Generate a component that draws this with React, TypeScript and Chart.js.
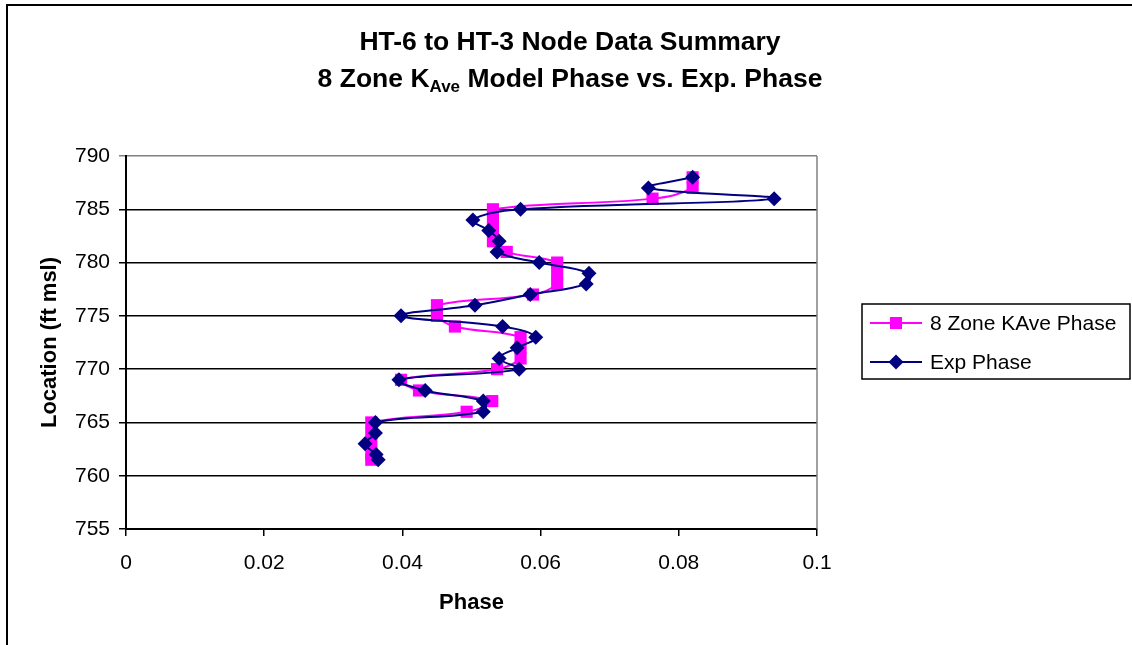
import { useEffect, useRef } from "react";
import { Chart, registerables } from "chart.js";

Chart.register(...registerables);

const FONT = "'Liberation Sans', Arial, sans-serif";

const titleLine1 = "HT-6 to HT-3 Node Data Summary";
const titleLine2Parts = ["8 Zone K", "Ave", " Model Phase vs. Exp. Phase"];
const xAxisTitle = "Phase";
const yAxisTitle = "Location (ft msl)";
const seriesNames = ["8 Zone KAve Phase", "Exp Phase"];

const xTicks = [0, 0.02, 0.04, 0.06, 0.08, 0.1];
const xTickLabels = ["0", "0.02", "0.04", "0.06", "0.08", "0.1"];
const yTicks = [755, 760, 765, 770, 775, 780, 785, 790];
const yTickLabels = ["755", "760", "765", "770", "775", "780", "785", "790"];

const locations = [
  788, 787, 786, 785, 784, 783, 782, 781, 780, 779, 778, 777, 776, 775, 774,
  773, 772, 771, 770, 769, 768, 767, 766, 765, 764, 763, 762, 761.5,
];
const modelPhase = [
  0.082, 0.082, 0.0762, 0.0531, 0.0531, 0.0531, 0.0531, 0.0551, 0.0624, 0.0624,
  0.0624, 0.0589, 0.045, 0.045, 0.0476, 0.0571, 0.0571, 0.0571, 0.0537, 0.0398,
  0.0424, 0.053, 0.0493, 0.0355, 0.0355, 0.0355, 0.0355, 0.0355,
];
const expPhase = [
  0.082, 0.0756, 0.0938, 0.0571, 0.0502, 0.0525, 0.054, 0.0537, 0.0598, 0.067,
  0.0666, 0.0585, 0.0505, 0.0398, 0.0545, 0.0593, 0.0566, 0.054, 0.0569, 0.0395,
  0.0433, 0.0517, 0.0517, 0.0361, 0.0361, 0.0346, 0.0362, 0.0365,
];

const PINK = "#FF00FF";
const NAVY = "#000080";

const decoPlugin = {
  id: "deco",
  beforeDraw(chart: any) {
    const ctx = chart.ctx;
    ctx.save();
    ctx.fillStyle = "#ffffff";
    ctx.fillRect(0, 0, chart.width, chart.height);
    ctx.restore();
  },
  afterDraw(chart: any) {
    const ctx = chart.ctx as CanvasRenderingContext2D;
    const a = chart.chartArea;
    ctx.save();
    // gray right border of plot area
    ctx.strokeStyle = "#808080";
    ctx.lineWidth = 1.5;
    ctx.beginPath();
    ctx.moveTo(a.right, a.top);
    ctx.lineTo(a.right, a.bottom);
    ctx.stroke();

    // outer frame (top and left only visible)
    ctx.strokeStyle = "#000";
    ctx.lineWidth = 2;
    ctx.beginPath();
    ctx.moveTo(7, chart.height);
    ctx.lineTo(7, 5);
    ctx.lineTo(chart.width, 5);
    ctx.stroke();

    // title
    const cx = 570;
    ctx.fillStyle = "#000";
    ctx.textBaseline = "alphabetic";
    ctx.textAlign = "left";
    const big = `bold 26.5px ${FONT}`;
    const small = `bold 17px ${FONT}`;
    ctx.font = big;
    const w0 = ctx.measureText(titleLine1).width;
    ctx.fillText(titleLine1, cx - w0 / 2, 50);
    const w1 = ctx.measureText(titleLine2Parts[0]).width;
    const w3 = ctx.measureText(titleLine2Parts[2]).width;
    ctx.font = small;
    const w2 = ctx.measureText(titleLine2Parts[1]).width;
    let x = cx - (w1 + w2 + w3) / 2;
    ctx.font = big;
    ctx.fillText(titleLine2Parts[0], x, 87);
    x += w1;
    ctx.font = small;
    ctx.fillText(titleLine2Parts[1], x, 92);
    x += w2;
    ctx.font = big;
    ctx.fillText(titleLine2Parts[2], x, 87);

    // legend
    ctx.strokeStyle = "#000";
    ctx.lineWidth = 1.5;
    ctx.strokeRect(862, 304, 268, 75);
    const rows = [
      { y: 323, color: PINK, shape: "rect" },
      { y: 362, color: NAVY, shape: "diamond" },
    ];
    rows.forEach((r, i) => {
      ctx.strokeStyle = r.color;
      ctx.lineWidth = 2;
      ctx.beginPath();
      ctx.moveTo(870, r.y);
      ctx.lineTo(922, r.y);
      ctx.stroke();
      ctx.fillStyle = r.color;
      if (r.shape === "rect") {
        ctx.fillRect(896 - 6, r.y - 6, 12, 12);
      } else {
        ctx.beginPath();
        ctx.moveTo(896, r.y - 7.5);
        ctx.lineTo(903.5, r.y);
        ctx.lineTo(896, r.y + 7.5);
        ctx.lineTo(888.5, r.y);
        ctx.closePath();
        ctx.fill();
      }
      ctx.fillStyle = "#000";
      ctx.font = `21px ${FONT}`;
      ctx.textBaseline = "middle";
      ctx.fillText(seriesNames[i], 930, r.y + 1);
    });
    ctx.restore();
  },
};

export default function App() {
  const ref = useRef<HTMLCanvasElement>(null);

  useEffect(() => {
    const canvas = ref.current!;
    const tickFont = { family: FONT, size: 21 };
    const axisTitleFont = { family: FONT, size: 22, weight: "bold" as const };

    const chart = new Chart(canvas, {
      type: "scatter",
      data: {
        datasets: [
          {
            label: seriesNames[0],
            data: locations.map((y, i) => ({ x: modelPhase[i], y })),
            showLine: true,
            borderColor: PINK,
            backgroundColor: PINK,
            borderWidth: 2,
            pointStyle: "rect",
            pointRadius: 8.6,
            pointBorderWidth: 0,
            pointHoverRadius: 8.6,
            tension: 0.4,
            order: 2,
          },
          {
            label: seriesNames[1],
            data: locations.map((y, i) => ({ x: expPhase[i], y })),
            showLine: true,
            borderColor: NAVY,
            backgroundColor: NAVY,
            borderWidth: 2,
            pointStyle: "rectRot",
            pointRadius: 7.5,
            pointBorderWidth: 0,
            pointHoverRadius: 7.5,
            tension: 0.4,
            order: 1,
          },
        ],
      },
      plugins: [decoPlugin],
      options: {
        animation: false,
        responsive: false,
        devicePixelRatio: 1,
        events: [],
        layout: { padding: { left: 37, right: 315, top: 156, bottom: 29 } },
        plugins: {
          legend: { display: false },
          tooltip: { enabled: false },
          title: { display: false },
        },
        scales: {
          x: {
            type: "linear",
            min: 0,
            max: 0.1,
            afterBuildTicks: (s: any) => {
              s.ticks = xTicks.map((v) => ({ value: v }));
            },
            afterFit: (s: any) => {
              s.height = 87;
            },
            ticks: {
              callback: (_v: any, i: number) => xTickLabels[i],
              font: tickFont,
              color: "#000",
              padding: 15,
              maxRotation: 0,
              autoSkip: false,
            },
            grid: {
              drawOnChartArea: false,
              tickLength: 7,
              color: "#000",
              lineWidth: 1.5,
            },
            border: { color: "#000", width: 2 },
            title: {
              display: true,
              text: xAxisTitle,
              font: axisTitleFont,
              color: "#000",
              padding: 0,
            },
          },
          y: {
            type: "linear",
            min: 755,
            max: 790,
            afterBuildTicks: (s: any) => {
              s.ticks = yTicks.map((v) => ({ value: v }));
            },
            afterFit: (s: any) => {
              s.width = 89;
            },
            ticks: {
              callback: (_v: any, i: number) => yTickLabels[i],
              font: tickFont,
              color: "#000",
              padding: 9,
              autoSkip: false,
            },
            grid: {
              color: (c: any) =>
                c.tick && c.tick.value === 790 ? "#808080" : "#000",
              lineWidth: 1.5,
              tickLength: 7,
            },
            border: { color: "#000", width: 2 },
            title: {
              display: true,
              text: yAxisTitle,
              font: axisTitleFont,
              color: "#000",
              padding: 0,
            },
          },
        },
      },
    });
    return () => chart.destroy();
  }, []);

  return (
    <div
      style={{
        position: "absolute",
        left: 0,
        top: 0,
        width: 1132,
        height: 645,
        background: "#fff",
      }}
    >
      <canvas
        ref={ref}
        width={1132}
        height={645}
        style={{ display: "block", width: 1132, height: 645 }}
      />
    </div>
  );
}
